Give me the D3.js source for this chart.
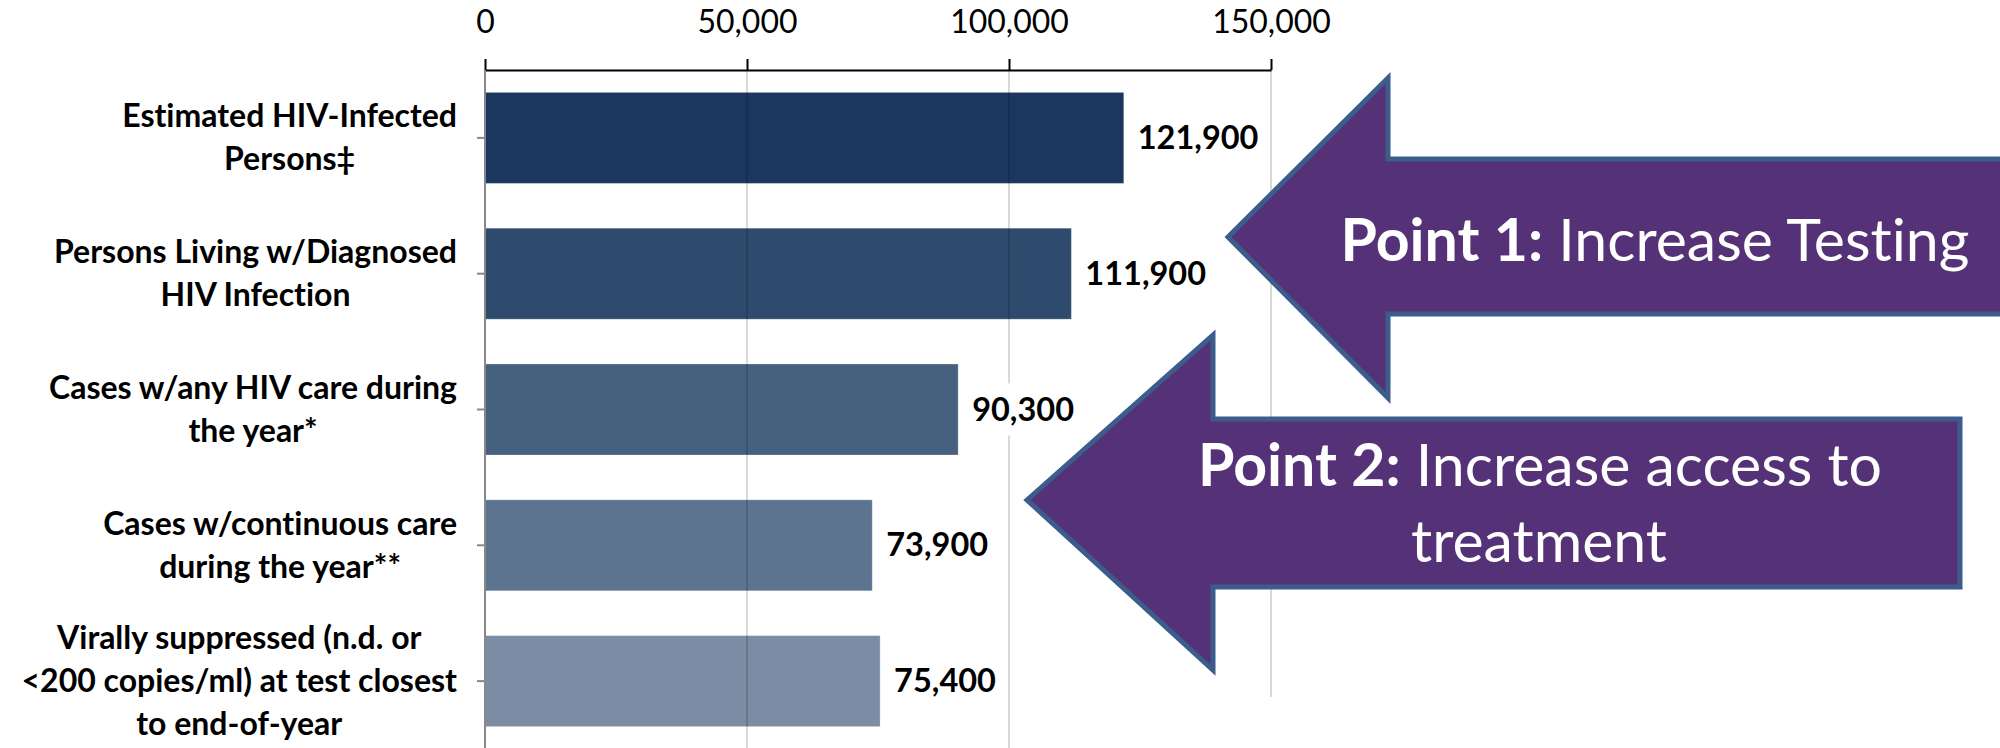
<!DOCTYPE html>
<html lang="en">
<head>
    <meta charset="UTF-8">
    <title>HIV Care Cascade</title>
    <script src="https://d3js.org/d3.v7.min.js"></script>
    <style>
        body { margin: 0; background: #fff; }
        svg { display: block; font-family: Lato, "Open Sans", sans-serif; font-variant-ligatures: none; }
    </style>
</head>
<body>
    <svg id="chart" width="2000" height="748"></svg>
<script>
// chart data
const categories = [
    ['Estimated HIV-Infected', 'Persons\u2021'],
    ['Persons Living w/Diagnosed', 'HIV Infection'],
    ['Cases w/any HIV care during', 'the year*'],
    ['Cases w/continuous care', 'during the year**'],
    ['Virally suppressed (n.d. or', '<200 copies/ml) at test closest', 'to end-of-year']
];
const values = [121900, 111900, 90300, 73900, 75400];
const tickValues = [0, 50000, 100000, 150000];

// bar shading, darkest first
const barColors = ['#1b375d', '#2e4a6c', '#46617f', '#5d7490', '#7b8ca4'];

const svg = d3.select('#chart');
const fmt = d3.format(',');

const xScale = d3.scaleLinear()
    .domain([0, 150000])
    .range([485, 1271]);

const yScale = d3.scaleBand()
    .domain(d3.range(categories.length))
    .range([70, 749])
    .paddingInner(0.33)
    .paddingOuter(0.165);

// bars
svg.selectAll('.bar')
    .data(values)
    .enter()
    .append('rect')
    .attr('class', 'bar')
    .attr('x', xScale(0))
    .attr('y', (d, i) => yScale(i))
    .attr('width', d => xScale(d) - xScale(0))
    .attr('height', yScale.bandwidth())
    .attr('fill', (d, i) => barColors[i])
    .attr('stroke', 'rgba(255,255,255,0.25)')
    .attr('stroke-width', 1);

// vertical gridlines drawn over the bars
svg.selectAll('.grid')
    .data(tickValues.slice(1))
    .enter()
    .append('line')
    .attr('class', 'grid')
    .attr('x1', d => xScale(d))
    .attr('x2', d => xScale(d))
    .attr('y1', 70)
    .attr('y2', d => d === 150000 ? 697 : 748)
    .attr('stroke', 'rgba(0,0,0,0.15)')
    .attr('stroke-width', 2);

// top axis
const xAxis = svg.append('g')
    .attr('transform', 'translate(0,70)')
    .call(d3.axisTop(xScale)
        .tickValues(tickValues)
        .tickFormat(fmt)
        .tickSize(11)
        .tickSizeOuter(0)
        .tickPadding(26));
xAxis.select('.domain').attr('stroke', '#000').attr('stroke-width', 2);
xAxis.selectAll('.tick line').attr('stroke', '#000').attr('stroke-width', 2);
xAxis.selectAll('.tick text')
    .attr('fill', '#000')
    .style('font-family', 'Lato, sans-serif')
    .style('font-size', '32px');

// left category axis
const yAxis = svg.append('g')
    .attr('transform', `translate(${xScale(0)},0)`)
    .call(d3.axisLeft(yScale).tickSize(8).tickSizeOuter(0).tickFormat(''));
yAxis.select('.domain').attr('stroke', '#888').attr('stroke-width', 2)
    .attr('d', 'M0,70V748');
yAxis.selectAll('.tick line').attr('stroke', '#888').attr('stroke-width', 2);

// category labels: block right-aligned, lines centred inside it
const labelRight = 457;
const lineGap = 43;
categories.forEach((lines, i) => {
    const cy = yScale(i) + yScale.bandwidth() / 2;
    const g = svg.append('g');
    const texts = lines.map((ln, j) => g.append('text')
        .attr('y', cy + (j - (lines.length - 1) / 2) * lineGap + 11)
        .attr('text-anchor', 'middle')
        .style('font-size', '32px')
        .style('font-weight', 700)
        .attr('fill', '#000')
        .text(ln));
    const maxW = d3.max(texts, t => t.node().getComputedTextLength());
    texts.forEach(t => t.attr('x', labelRight - maxW / 2));
});

// value labels with white boxes behind
values.forEach((v, i) => {
    const cy = yScale(i) + yScale.bandwidth() / 2;
    const x0 = xScale(v) + 14;
    const g = svg.append('g');
    const bg = g.append('rect').attr('fill', '#fff');
    const t = g.append('text')
        .attr('x', x0)
        .attr('y', cy + 11)
        .style('font-size', '32.5px')
        .style('font-weight', 700)
        .attr('fill', '#000')
        .text(fmt(v));
    const w = t.node().getComputedTextLength();
    bg.attr('x', x0 - 4).attr('y', cy - 26).attr('width', w + 8).attr('height', 52);
});

// callout arrows
const arrows = [
    { pts: [[1228, 237], [1388, 78], [1388, 159], [2010, 159], [2010, 314], [1388, 314], [1388, 398]],
      lines: [{ bold: 'Point 1:', rest: ' Increase Testing', x: 1655, y: 261 }] },
    { pts: [[1027, 500], [1213, 335], [1213, 419], [1960, 419], [1960, 587], [1213, 587], [1213, 670]],
      lines: [{ bold: 'Point 2:', rest: ' Increase access to', x: 1540, y: 486 },
              { bold: '', rest: 'treatment', x: 1539, y: 562 }] }
];

arrows.forEach(a => {
    svg.append('path')
        .attr('d', d3.line()(a.pts) + 'Z')
        .attr('fill', '#553277')
        .attr('stroke', '#3c5d8b')
        .attr('stroke-width', 5)
        .attr('stroke-linejoin', 'miter');
    a.lines.forEach(l => {
        const t = svg.append('text')
            .attr('x', l.x)
            .attr('y', l.y)
            .attr('text-anchor', 'middle')
            .attr('fill', '#fff')
            .style('font-size', '59px');
        if (l.bold) t.append('tspan').style('font-weight', 700).text(l.bold);
        t.append('tspan').text(l.rest);
    });
});
</script>
</body>
</html>
